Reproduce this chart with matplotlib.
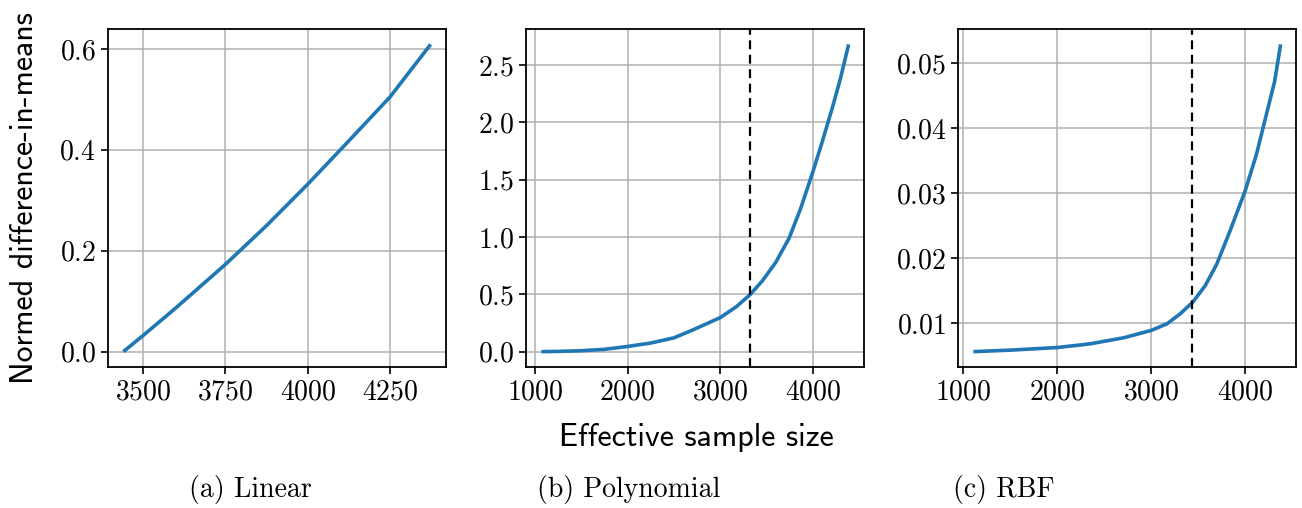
import numpy as np
import matplotlib
matplotlib.use("Agg")
import matplotlib.pyplot as plt

# Computer Modern look (fonts ship with matplotlib)
plt.rcParams['font.family'] = 'cmr10'
plt.rcParams['axes.formatter.use_mathtext'] = True
plt.rcParams['mathtext.fontset'] = 'cm'

# Linear kernel
lin_x = [3440, 3500, 3600, 3750, 3875, 4000, 4125, 4250, 4373]
lin_y = [0.0, 0.032, 0.087, 0.173, 0.250, 0.332, 0.418, 0.505, 0.609]

# Polynomial kernel
poly_x = [1071, 1250, 1500, 1750, 2000, 2250, 2500, 2707, 3000, 3171, 3321, 3457,
          3600, 3743, 3868, 4000, 4100, 4207, 4296, 4385]
poly_y = [0.0, 0.002, 0.008, 0.02, 0.045, 0.075, 0.12, 0.19, 0.297, 0.39, 0.496, 0.62,
          0.78, 0.99, 1.25, 1.57, 1.83, 2.12, 2.38, 2.68]
poly_cut = 3326

# RBF kernel
rbf_x = [1109, 1500, 1750, 2000, 2250, 2359, 2711, 3000, 3169, 3310, 3444, 3574,
         3697, 3838, 4000, 4120, 4225, 4313, 4377]
rbf_y = [0.00567, 0.0059, 0.0061, 0.0063, 0.0067, 0.00689, 0.00781, 0.00893, 0.00995,
         0.0115, 0.0133, 0.0158, 0.0191, 0.0242, 0.0304, 0.0360, 0.0421, 0.0472, 0.0529]
rbf_cut = 3436

captions = ['(a) Linear', '(b) Polynomial', '(c) RBF']
cap_x = [250, 629, 1004]

W, H = 1302, 508
fig = plt.figure(figsize=(W / 100, H / 100), dpi=100)

lefts = [108, 526, 958]
axes = []
for l in lefts:
    ax = fig.add_axes([l / W, (H - 367) / H, 338 / W, 338 / H])
    axes.append(ax)

blue = '#1f77b4'
series = [(lin_x, lin_y, None), (poly_x, poly_y, poly_cut), (rbf_x, rbf_y, rbf_cut)]
for ax, (xs, ys, cut) in zip(axes, series):
    ax.plot(xs, ys, color=blue, lw=2.6, solid_capstyle='butt')
    if cut is not None:
        ax.axvline(cut, color='black', ls='--', lw=1.6, dashes=(4, 2.5))
    ax.grid(True, color='#b0b0b0', lw=1.1)
    ax.set_axisbelow(True)
    ax.tick_params(labelsize=20, width=1.2, length=5)
    for s in ax.spines.values():
        s.set_linewidth(1.3)

axes[0].set_xticks([3500, 3750, 4000, 4250])
axes[0].set_yticks([0.0, 0.2, 0.4, 0.6])
axes[1].set_xticks([1000, 2000, 3000, 4000])
axes[1].set_yticks([0.0, 0.5, 1.0, 1.5, 2.0, 2.5])
axes[2].set_xticks([1000, 2000, 3000, 4000])
axes[2].set_yticks([0.01, 0.02, 0.03, 0.04, 0.05])

fig.text(25 / W, 1 - 198 / H, 'Normed difference-in-means', family='cmss10',
         fontsize=23, rotation=90, ha='center', va='center')
fig.text(696 / W, 1 - 437 / H, 'Effective sample size', family='cmss10',
         fontsize=23, ha='center', va='center')

for c, x in zip(captions, cap_x):
    fig.text(x / W, 1 - 489 / H, c, fontsize=20, ha='center', va='center')

fig.savefig('out.png', dpi=100)
